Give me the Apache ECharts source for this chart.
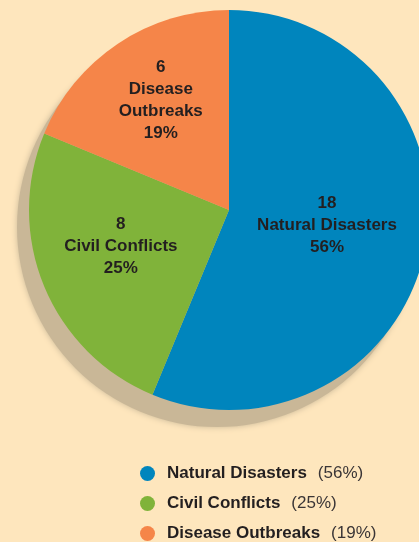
<!DOCTYPE html>
<html>
<head>
<meta charset="utf-8">
<style>
    html, body { margin: 0; padding: 0; background: #fee6bd; }
    #chart { width: 419px; height: 542px; }
</style>
<script src="https://cdn.jsdelivr.net/npm/echarts@6/dist/echarts.min.js"></script>
</head>
<body>
<div id="chart"></div>
<script>
// 数据
var categories = ['Natural Disasters', 'Civil Conflicts', 'Disease Outbreaks'];
var labelNames = ['Natural Disasters', 'Civil Conflicts', 'Disease\nOutbreaks'];
var counts = [18, 8, 6];
var percents = [56, 25, 19];
var colors = ['#0085bd', '#80b33a', '#f58549'];

var FONT = '"Liberation Sans", Arial, sans-serif';
var TEXT = '#231f20';

// 标签微调
var labelOffsets = [[-3, -5], [-13, -3], [-11, -24]];

var total = counts.reduce(function (a, b) { return a + b; }, 0);

var pieData = categories.map(function (name, i) {
    return {
        name: name,
        value: counts[i],
        itemStyle: {color: colors[i]},
        label: {
            offset: labelOffsets[i],
            formatter: counts[i] + '\n' + labelNames[i] + '\n' + percents[i] + '%'
        }
    };
});

var myChart = echarts.init(document.getElementById('chart'));
myChart.setOption({
    backgroundColor: '#fee6bd',
    animation: false,
    legend: {
        orient: 'vertical',
        left: 135,
        top: 460,
        height: 80,
        itemWidth: 15,
        itemHeight: 15,
        itemGap: 13,
        icon: 'circle',
        selectedMode: false,
        data: categories,
        formatter: function (name) {
            var idx = categories.indexOf(name);
            return '{b|' + name + '}{p|(' + percents[idx] + '%)}';
        },
        textStyle: {
            rich: {
                b: {fontFamily: FONT, fontSize: 17, fontWeight: 'bold', color: TEXT, lineHeight: 16, padding: [0, 11, 0, 7]},
                p: {fontFamily: FONT, fontSize: 17, color: '#3a3536', lineHeight: 16}
            }
        }
    },
    series: [
        {
            // 阴影
            type: 'pie',
            silent: true,
            center: [217, 227],
            radius: 200,
            label: {show: false},
            labelLine: {show: false},
            itemStyle: {color: '#c9b797', shadowBlur: 6, shadowColor: '#c9b797'},
            data: [{name: 'shadow', value: total}]
        },
        {
            type: 'pie',
            center: [229, 210],
            radius: 200,
            startAngle: 90,
            clockwise: true,
            silent: true,
            label: {
                show: true,
                position: 'inside',
                fontFamily: FONT,
                fontSize: 17,
                fontWeight: 'bold',
                color: TEXT,
                lineHeight: 22,
                align: 'center'
            },
            labelLine: {show: false},
            data: pieData
        }
    ]
});
</script>
</body>
</html>
